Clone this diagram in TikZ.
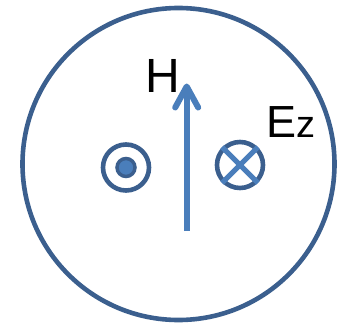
\documentclass[tikz,border=0pt]{standalone}
\usepackage{fontspec}
\setmainfont{Liberation Sans}
\definecolor{ringblue}{HTML}{3B5F8E}
\definecolor{lightblue}{HTML}{4A7EBB}
\tikzset{
  ring/.style={circle, draw=ringblue, line width=4.6pt, inner sep=0pt},
  field/.style={draw=lightblue, line width=6pt},
  lbl/.style={inner sep=0pt, text=black}
}
\begin{document}
\begin{tikzpicture}[x=1pt,y=1pt]
\useasboundingbox (0,0) rectangle (337,-326);
\node[ring, minimum size=312pt] (outer) at (178.5,-164) {};
\node[ring, minimum size=46pt] (dotc) at (126,-167.5) {};
\node[circle, fill=lightblue, draw=ringblue, line width=3.5pt, minimum size=18pt, inner sep=0pt] (dot) at (dotc.center) {};
\node[ring, minimum size=46pt] (cross) at (240,-165) {};
\draw[field, line width=5pt] (cross.north east) -- (cross.south west);
\draw[field, line width=5pt] (cross.north west) -- (cross.south east);
\coordinate (hbase) at (186.7,-231);
\coordinate (htip) at (186.7,-86.5);
\draw[field] (hbase) -- ([yshift=-3pt]htip);
\draw[field, line cap=round, line join=round] ([xshift=-11.5pt,yshift=-21pt]htip) -- (htip) -- ([xshift=11.5pt,yshift=-21pt]htip);
\node[lbl, anchor=base west, font=\fontsize{48}{48}\selectfont] (H) at (145,-93) {H};
\node[lbl, anchor=base west, font=\fontsize{45}{45}\selectfont] (E) at (266,-138) {E\fontsize{38}{38}\selectfont z};
\end{tikzpicture}
\end{document}
